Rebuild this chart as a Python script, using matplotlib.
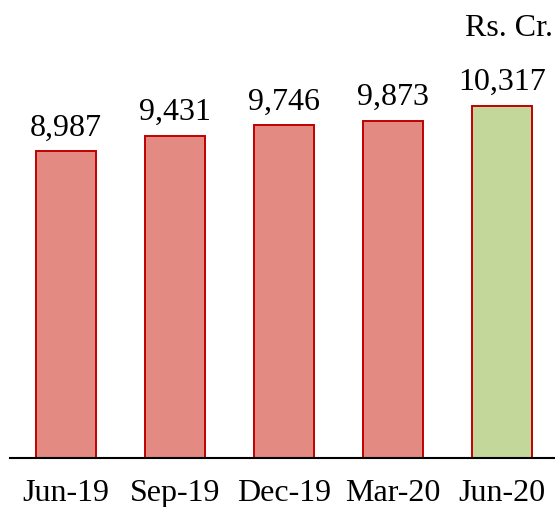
import matplotlib.pyplot as plt

quarters = ['Jun-19', 'Sep-19', 'Dec-19', 'Mar-20', 'Jun-20']
values = [8987, 9431, 9746, 9873, 10317]
fills = ['#E38A82', '#E38A82', '#E38A82', '#E38A82', '#C4D79B']

plt.rcParams['font.family'] = 'Liberation Serif'

fig = plt.figure(figsize=(5.55, 5.07), dpi=100)
ax = fig.add_axes([10 / 555, 49 / 507, 545 / 555, 458 / 507])

x = range(len(quarters))
bars = ax.bar(x, values, width=0.55, color=fills, edgecolor='#C00000', linewidth=1.4)

for xi, v in zip(x, values):
    ax.text(xi, v + 250, f'{v:,}', ha='center', va='bottom', fontsize=23)

ax.set_xlim(-0.514, 4.486)
ax.set_ylim(0, 13407)
ax.set_xticks(list(x))
ax.set_xticklabels(quarters, fontsize=23)
ax.tick_params(axis='x', length=0, pad=15)
ax.set_yticks([])
for side in ['top', 'right', 'left']:
    ax.spines[side].set_visible(False)
ax.spines['bottom'].set_linewidth(1.5)

fig.text(553 / 555, 1 - 29 / 507, 'Rs. Cr.', ha='right', va='center', fontsize=23)

fig.savefig('out.png', dpi=100)
